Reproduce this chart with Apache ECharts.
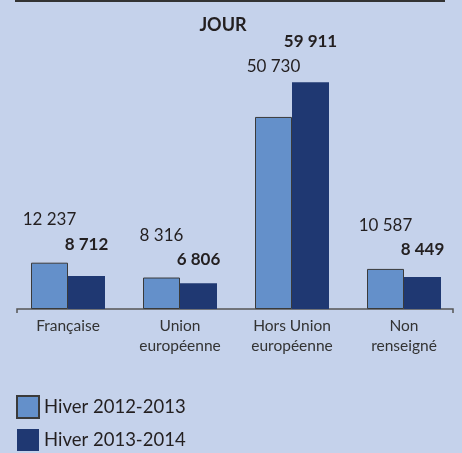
<!DOCTYPE html>
<html>
<head>
<meta charset="utf-8">
<script src="https://cdn.jsdelivr.net/npm/echarts@6/dist/echarts.min.js"></script>
<style>
  html, body { margin: 0; padding: 0; background: #c5d2eb; }
  #chart { width: 462px; height: 453px; }
</style>
</head>
<body>
<div id="chart"></div>
<script>
var categories = ['Française', 'Union\neuropéenne', 'Hors Union\neuropéenne', 'Non\nrenseigné'];
var hiver2012 = [12237, 8316, 50730, 10587];
var hiver2013 = [8712, 6806, 59911, 8449];
var seriesNames = ['Hiver 2012-2013', 'Hiver 2013-2014'];

// distance label / haut de barre (px)
var dist2012 = [35, 34, 42, 35];
var dist2013 = [23, 15, 32, 19];

var chart = echarts.init(document.getElementById('chart'));
var font = 'Lato, "Open Sans", sans-serif';

function fmt(v) {
    var s = String(v);
    return s.slice(0, s.length - 3) + ' ' + s.slice(-3);
}

function build(values, dists) {
    return values.map(function(v, i) {
        return {
            value: v,
            label: { distance: dists[i] }
        };
    });
}

var option = {
    backgroundColor: '#c5d2eb',
    animation: false,
    title: {
        text: 'JOUR',
        left: 218,
        top: 11,
        textAlign: 'center',
        textStyle: { fontFamily: font, fontSize: 18, fontWeight: 'bold', color: '#231f20' }
    },
    legend: {
        orient: 'vertical',
        left: 16,
        top: 395,
        height: 80,
        padding: 0,
        itemWidth: 22,
        itemHeight: 22,
        itemGap: 10,
        icon: 'rect',
        textStyle: {
            fontFamily: font, fontSize: 18.5, color: '#231f20',
            lineHeight: 17, padding: [5, 0, 0, 0]
        },
        data: seriesNames
    },
    grid: { left: 12, right: 2, top: 44, bottom: 144 },
    xAxis: {
        type: 'category',
        data: categories,
        axisLine: { show: false },
        axisTick: { show: false },
        axisLabel: {
            fontFamily: font,
            fontSize: 15.5,
            color: '#333',
            lineHeight: 20,
            margin: 7
        }
    },
    yAxis: {
        type: 'value',
        min: 0,
        max: 70000,
        show: false
    },
    series: [{
        name: seriesNames[0],
        type: 'bar',
        barWidth: 37,
        barGap: '0%',
        data: build(hiver2012, dist2012),
        itemStyle: { color: '#6490ca', borderColor: '#3a3a3a', borderWidth: 1 },
        label: {
            show: true,
            position: 'top',
            fontFamily: font,
            fontSize: 17,
            color: '#231f20',
            formatter: function(p) { return fmt(p.value); }
        }
    }, {
        name: seriesNames[1],
        type: 'bar',
        barWidth: 37,
        data: build(hiver2013, dist2013),
        itemStyle: { color: '#1f3872', borderColor: '#1f3872', borderWidth: 0 },
        label: {
            show: true,
            position: 'top',
            fontFamily: font,
            fontSize: 17,
            fontWeight: 'bold',
            color: '#231f20',
            formatter: function(p) { return fmt(p.value); }
        }
    }],
    graphic: [{
        type: 'line',
        shape: { x1: 15, y1: 1, x2: 445, y2: 1 },
        style: { stroke: '#333', lineWidth: 2 }
    }, {
        type: 'polyline',
        shape: { points: [[17, 313], [17, 309], [453, 309], [453, 313]] },
        style: { stroke: '#555', lineWidth: 1.5, fill: null }
    }]
};

chart.setOption(option);
</script>
</body>
</html>
